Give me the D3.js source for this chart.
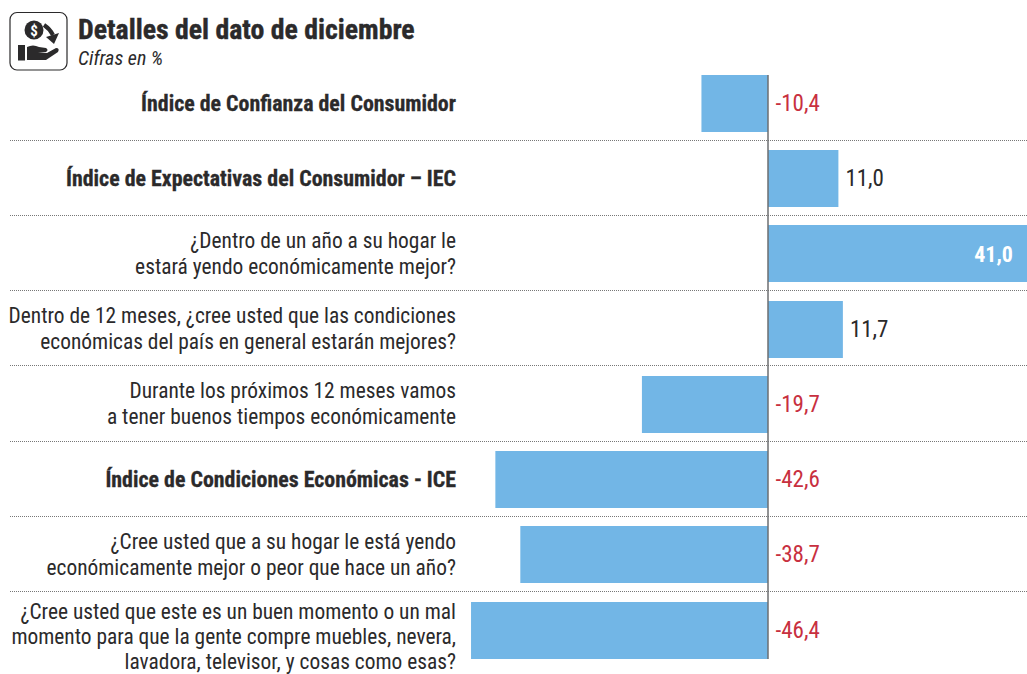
<!DOCTYPE html>
<html>
<head>
<meta charset="utf-8">
<script src="https://cdnjs.cloudflare.com/ajax/libs/d3/7.8.5/d3.min.js"></script>
<style>
html, body { margin: 0; padding: 0; background: #fff; overflow: hidden; }
text { font-family: "Liberation Sans Narrow", "Roboto Condensed", "Liberation Sans", sans-serif; }
</style>
</head>
<body>
<svg id="chart" width="1027" height="674"></svg>
<script>
const W = 1027, H = 674;
const BAR = "#72b6e6", RED = "#c8303f", INK = "#2b2a2b";

const labels = [
    ["Índice de Confianza del Consumidor"],
    ["Índice de Expectativas del Consumidor – IEC"],
    ["¿Dentro de un año a su hogar le", "estará yendo económicamente mejor?"],
    ["Dentro de 12 meses, ¿cree usted que las condiciones", "económicas del país en general estarán mejores?"],
    ["Durante los próximos 12 meses vamos", "a tener buenos tiempos económicamente"],
    ["Índice de Condiciones Económicas - ICE"],
    ["¿Cree usted que a su hogar le está yendo", "económicamente mejor o peor que hace un año?"],
    ["¿Cree usted que este es un buen momento o un mal", "momento para que la gente compre muebles, nevera,", "lavadora, televisor, y cosas como esas?"]
];
const values = [-10.4, 11.0, 41.0, 11.7, -19.7, -42.6, -38.7, -46.4];
const boldRows = [0, 1, 5];

const svg = d3.select("#chart");
const fmt = v => v.toFixed(1).replace(".", ",");

const x = d3.scaleLinear().domain([0, 41]).range([768, 1030.4]);
const y = d3.scaleBand().domain(d3.range(values.length)).range([66, 667.76]);
const barH = 57;

// separators between rows
svg.selectAll("line.sep")
    .data(d3.range(1, values.length))
    .enter().append("line")
    .attr("class", "sep")
    .attr("x1", 10).attr("x2", W)
    .attr("y1", d => Math.floor(y(d)) - 0.5).attr("y2", d => Math.floor(y(d)) - 0.5)
    .attr("stroke", "#777").attr("stroke-width", 1).attr("stroke-dasharray", "1 1");

svg.selectAll("rect.bar")
    .data(values)
    .enter().append("rect")
    .attr("class", "bar")
    .attr("x", d => Math.min(x(0), x(d)))
    .attr("width", d => Math.abs(x(d) - x(0)))
    .attr("y", (d, i) => Math.round(y(i) + 9))
    .attr("height", barH)
    .attr("fill", BAR);

svg.append("line")
    .attr("x1", x(0)).attr("x2", x(0))
    .attr("y1", 75).attr("y2", 659)
    .attr("stroke", "#6d6e71").attr("stroke-width", 1.5);

// value labels
svg.selectAll("text.val")
    .data(values)
    .enter().append("text")
    .attr("class", "val")
    .attr("x", d => d > 40 ? 1013 : (d < 0 ? x(0) + 7.5 : x(d) + 7))
    .attr("y", (d, i) => y(i) + y.bandwidth() / 2 + 7.5)
    .attr("text-anchor", d => d > 40 ? "end" : "start")
    .attr("font-size", d => d > 40 ? 22 : 23)
    .attr("font-weight", d => d > 40 ? 700 : 400)
    .attr("fill", d => d > 40 ? "#fff" : (d < 0 ? RED : INK))
    .text(fmt);

// row labels, the three-line one sits lower than its bar centre
labels.forEach((lines, i) => {
    const mid = y(i) + y.bandwidth() / 2;
    const lh = lines.length == 3 ? 25 : 26;
    const nudge = lines.length == 3 ? 7 : 0;
    const top = mid - (lines.length - 1) * lh / 2 + 7 + nudge;
    lines.forEach((t, j) => {
        svg.append("text")
            .attr("x", 456)
            .attr("y", top + j * lh)
            .attr("text-anchor", "end")
            .attr("font-size", boldRows.includes(i) ? 21.9 : 21.4)
            .attr("font-weight", boldRows.includes(i) ? 700 : 400)
            .attr("stroke", boldRows.includes(i) ? INK : "none")
            .attr("stroke-width", 0.3)
            .attr("fill", INK)
            .text(t);
    });
});

// header
svg.append("text").attr("x", 78).attr("y", 39)
    .attr("font-size", 27.8).attr("font-weight", 700).attr("fill", INK)
    .attr("stroke", INK).attr("stroke-width", 0.4)
    .text("Detalles del dato de diciembre");
svg.append("text").attr("x", 78).attr("y", 65)
    .attr("font-size", 20).attr("font-style", "italic").attr("fill", INK)
    .text("Cifras en %");

// icon
const icon = svg.append("g");
icon.append("rect").attr("x", 10).attr("y", 12.5).attr("width", 57).attr("height", 57.5)
    .attr("rx", 7).attr("fill", "#fff").attr("stroke", INK).attr("stroke-width", 1.2);
icon.append("circle").attr("cx", 34).attr("cy", 30).attr("r", 9.5).attr("fill", INK);
icon.append("text").attr("x", 34).attr("y", 35.5).attr("text-anchor", "middle")
    .attr("font-size", 15).attr("font-weight", 700).attr("fill", "#fff").text("$");
icon.append("path").attr("d", "M44 25 Q50 29 53 35").attr("fill", "none").attr("stroke", INK).attr("stroke-width", 4);
icon.append("path").attr("d", "M46 37 L59 33 L54 44 Z").attr("fill", INK);
icon.append("rect").attr("x", 18).attr("y", 45).attr("width", 7).attr("height", 15.5).attr("fill", INK);
icon.append("path").attr("d", "M27 47 Q33 44 39 47 L46 48 Q49 50 46 52 L38 52 L47 53 L56 48 Q60 48 58 52 L46 60 L27 60 Z").attr("fill", INK);
</script>
</body>
</html>
